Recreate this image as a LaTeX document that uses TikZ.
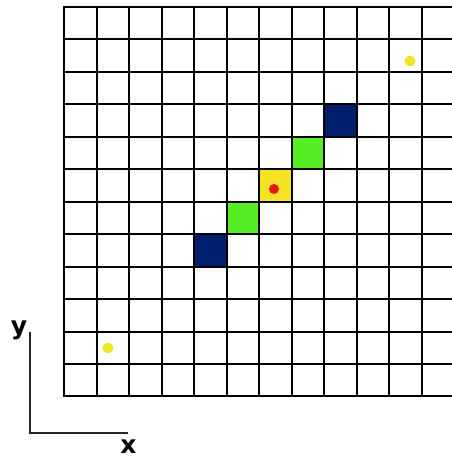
\documentclass[tikz,border=0pt]{standalone}
\usepackage{fontspec}
\newfontfamily\labfont{DejaVu Sans}
\definecolor{navycell}{RGB}{0,30,110}
\definecolor{greencell}{RGB}{85,238,34}
\definecolor{yellowcell}{RGB}{245,226,35}
\definecolor{dotyellow}{RGB}{240,228,40}
\definecolor{dotred}{RGB}{232,20,20}
\tikzset{
  gridline/.style={line width=2pt, black},
  axisline/.style={line width=1.4pt, black!85},
  axislabel/.style={inner sep=0pt, font=\labfont\bfseries\fontsize{25}{25}\selectfont},
  ydot/.style={circle, fill=dotyellow, inner sep=0pt, minimum size=11pt},
  rdot/.style={circle, fill=dotred, inner sep=0pt, minimum size=10pt}
}
\begin{document}
\begin{tikzpicture}[x=1pt,y=-1pt]
\useasboundingbox[fill=white] (0,0) rectangle (452,459);
\def\cw{32.5}
\def\ch{32.45}
% coloured cells (col,row) from top-left
\foreach \c/\r/\col in {8/3/navycell, 7/4/greencell, 6/5/yellowcell, 5/6/greencell, 4/7/navycell}{
  \fill[\col] (64+\c*\cw,7+\r*\ch) rectangle (64+\c*\cw+\cw,7+\r*\ch+\ch);
}
% grid
\foreach \i in {0,...,11}{
  \draw[gridline] (64+\i*\cw,7) -- (64+\i*\cw,7+12*\ch);
}
\foreach \j in {0,...,12}{
  \draw[gridline] (63,7+\j*\ch) -- (453,7+\j*\ch);
}
% dots
\node[rdot] (red) at (274,189) {};
\node[ydot] (y1) at (410,61) {};
\node[ydot] (y2) at (108,348) {};
% axes
\coordinate (o) at (30,433);
\coordinate (ytop) at (30,332);
\coordinate (xend) at (128,433);
\draw[axisline] (ytop) -- (o) -- (xend);
\node[axislabel] (ylab) at (19,330) {y};
\node[axislabel] (xlab) at (128.5,447) {x};
\end{tikzpicture}
\end{document}
